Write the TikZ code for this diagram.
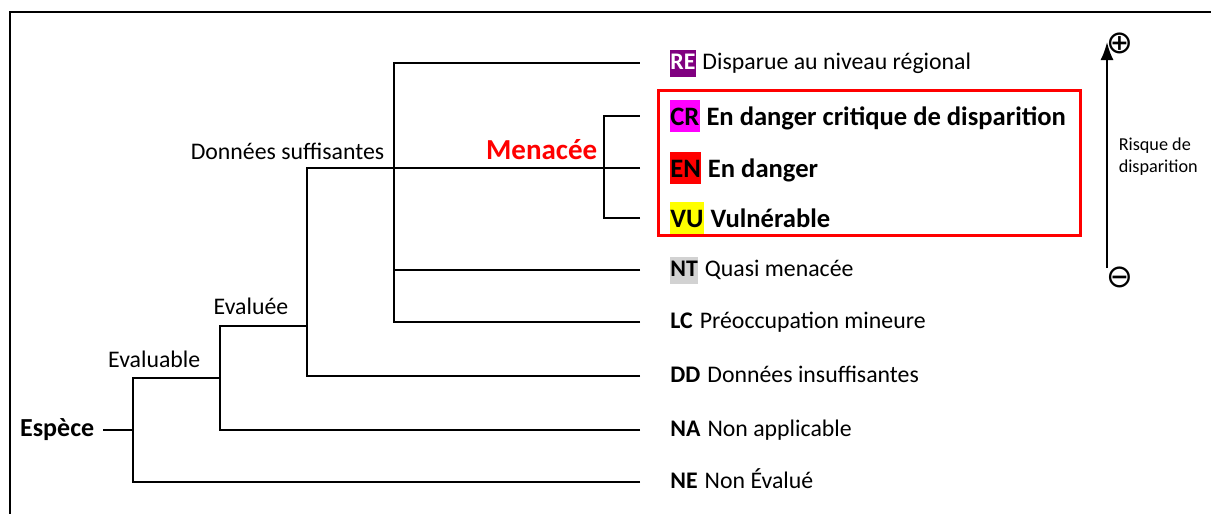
\documentclass[tikz,border=0pt]{standalone}
\usepackage{fontspec}
\setmainfont{Carlito}
\newfontfamily\symfont{DejaVu Sans}
\usetikzlibrary{arrows.meta,positioning}
\definecolor{rePurple}{RGB}{128,0,128}
\definecolor{crMagenta}{RGB}{255,0,255}
\definecolor{enRed}{RGB}{255,0,0}
\definecolor{vuYellow}{RGB}{255,255,0}
\definecolor{ntGray}{RGB}{210,210,210}

\begin{document}
\begin{tikzpicture}[x=0.5pt, y=-0.5pt, line width=0.75pt, node distance=2.5pt,
	code/.style={anchor=west, inner xsep=0.3pt, inner ysep=0pt, text height=10pt, text depth=3.5pt, font=\fontsize{11.9}{14}\selectfont\bfseries},
	desc/.style={inner sep=0pt, text height=10pt, text depth=3.5pt, font=\fontsize{11.9}{14}\selectfont},
	bigcode/.style={code, text height=12.5pt, font=\fontsize{13.3}{16}\selectfont\bfseries},
	bigdesc/.style={desc, text height=12.5pt, font=\fontsize{13.3}{16}\selectfont\bfseries},
	branch/.style={anchor=base east, inner sep=0pt, font=\fontsize{11.9}{14}\selectfont},
	sign/.style={inner sep=0pt, font=\symfont\fontsize{16}{16}\selectfont},
	leaf/.style={shorten <=14.5pt},
	twoleaf/.style={shorten <=14.5pt, shorten >=14.5pt}]
	\useasboundingbox (0,0) rectangle (1211,514);
	\draw[line width=1.25pt] (10,514) |- (1211,12);

	% categories
	\node[code, fill=rePurple, text=white] (re) at (669,63)  {RE};
	\node[desc, right=of re] (retx) {Disparue au niveau régional};
	\node[bigcode, fill=crMagenta] (cr) at (669,116) {CR};
	\node[bigdesc, right=of cr] (crtx) {En danger critique de disparition};
	\node[bigcode, fill=enRed] (en) at (669,168) {EN};
	\node[bigdesc, right=of en] (entx) {En danger};
	\node[bigcode, fill=vuYellow] (vu) at (669,218) {VU};
	\node[bigdesc, right=of vu] (vutx) {Vulnérable};
	\node[code, fill=ntGray] (nt) at (669,270) {NT};
	\node[desc, right=of nt] (nttx) {Quasi menacée};
	\node[code] (lc) at (669,322) {LC};
	\node[desc, right=of lc] (lctx) {Préoccupation mineure};
	\node[code] (dd) at (669,376) {DD};
	\node[desc, right=of dd] (ddtx) {Données insuffisantes};
	\node[code] (na) at (669,430) {NA};
	\node[desc, right=of na] (natx) {Non applicable};
	\node[code] (ne) at (669,482) {NE};
	\node[desc, right=of ne] (netx) {Non Évalué};

	% tree
	\node[anchor=east, inner xsep=4pt, font=\fontsize{13}{15}\selectfont\bfseries] (esp) at (103,430) {Espèce};
	\coordinate (j0)  at (133,430);
	\coordinate (evb) at (220,378);
	\coordinate (evl) at (307,326);
	\coordinate (ds)  at (394,168);
	\coordinate (men) at (604,168);

	\node[branch] (evbl) at (201,367) {Evaluable};
	\node[branch] (evll) at (289,314) {Evaluée};
	\node[branch] (dsl)  at (385,159) {Données suffisantes};
	\node[branch, text=enRed, font=\fontsize{14.5}{17}\selectfont\bfseries] (menl) at (598,159) {Menacée};

	\draw (esp.east) -- (j0);
	\draw[leaf] (ne.west) -| (j0) |- (evb);
	\draw[leaf] (na.west) -| (evb) |- (evl);
	\draw[leaf] (dd.west) -| (evl) |- (ds) -- (men);
	\draw[twoleaf] (lc.west) -| (ds) |- (re.west);
	\draw[leaf] (nt.west) -- (nt.west -| ds);
	\draw[twoleaf] (vu.west) -| (men) |- (cr.west);
	\draw[leaf] (en.west) -- (men);

	\draw[line width=1.5pt, enRed] (658,90) rectangle (1080,235);

	% risk scale
	\coordinate (lo) at (1107,268);
	\coordinate (hi) at (1107,42);
	\draw[line width=1pt, -{Latex[length=9pt,width=6.5pt]}] (lo) -- (hi);
	\node[sign] (plus)  at (1120,43)  {⊕};
	\node[sign] (minus) at (1120,277) {⊖};
	\node[anchor=west, align=left, inner sep=0pt, font=\fontsize{9.1}{11}\selectfont] (risk) at (1118,157) {Risque de\\disparition};
\end{tikzpicture}
\end{document}
